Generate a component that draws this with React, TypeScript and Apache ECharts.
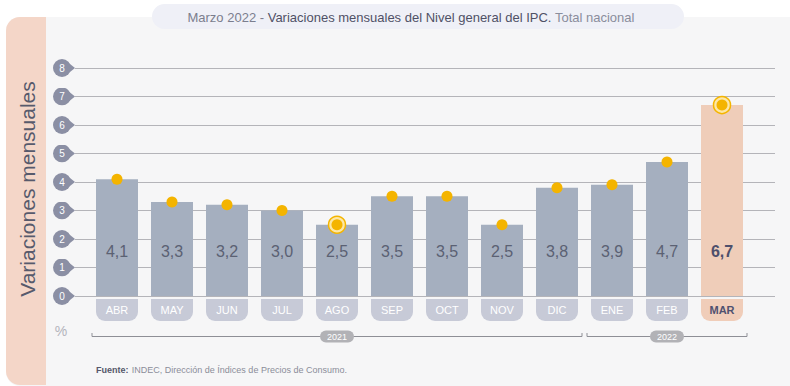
import React, { useEffect, useRef } from "react";
import * as echarts from "echarts";

const categories = ["ABR", "MAY", "JUN", "JUL", "AGO", "SEP", "OCT", "NOV", "DIC", "ENE", "FEB", "MAR"];
const values = [4.1, 3.3, 3.2, 3.0, 2.5, 3.5, 3.5, 2.5, 3.8, 3.9, 4.7, 6.7];
const ringMonths = ["AGO", "MAR"];
const highlightMonth = "MAR";
const yTicks = [0, 1, 2, 3, 4, 5, 6, 7, 8];
const yearLabels = ["2021", "2022"];
const yearStart = ["ABR", "ENE"];
const yearEnd = ["DIC", "MAR"];

const FONT = "Liberation Sans, Arial, sans-serif";

const badgeSvg =
  "data:image/svg+xml;charset=utf-8," +
  encodeURIComponent(
    '<svg xmlns="http://www.w3.org/2000/svg" width="22" height="18" viewBox="0 0 22 18">' +
      '<circle cx="9" cy="9" r="9" fill="#8b8fa4"/>' +
      '<polygon points="13.5,2.3 22,9 13.5,15.7" fill="#8b8fa4"/>' +
      "</svg>"
  );

const fmt = (v: number) => v.toFixed(1).replace(".", ",");

export default function App() {
  const ref = useRef<HTMLDivElement>(null);

  useEffect(() => {
    if (!ref.current) return;
    const chart = echarts.init(ref.current, undefined, { renderer: "svg" });

    const option: any = {
      animation: false,
      textStyle: { fontFamily: FONT },
      grid: [
        { left: 75, right: 15, top: 68, bottom: 90 },
        { left: 89.5, right: 40.5, top: 68, bottom: 90 },
      ],
      xAxis: [
        { type: "value", gridIndex: 0, show: false, min: 0, max: 1 },
        {
          type: "category",
          gridIndex: 1,
          data: categories,
          axisLine: { show: false },
          axisTick: { show: false },
          axisLabel: {
            margin: 2,
            interval: 0,
            formatter: (v: string) => (v === highlightMonth ? `{h|${v}}` : `{n|${v}}`),
            rich: {
              n: {
                width: 42,
                height: 22,
                lineHeight: 24,
                align: "center",
                color: "#ffffff",
                fontSize: 11,
                fontFamily: FONT,
                backgroundColor: "#c7cad7",
                borderRadius: [0, 0, 9, 9],
              },
              h: {
                width: 42,
                height: 22,
                lineHeight: 24,
                align: "center",
                color: "#4f5170",
                fontSize: 11,
                fontWeight: "bold",
                fontFamily: FONT,
                backgroundColor: "#f0cdb9",
                borderRadius: [0, 0, 9, 9],
              },
            },
          },
        },
      ],
      yAxis: [
        {
          type: "value",
          gridIndex: 0,
          min: yTicks[0],
          max: yTicks[yTicks.length - 1],
          interval: 1,
          axisLine: { show: false },
          axisTick: { show: false },
          splitLine: { show: true, lineStyle: { color: "#b4b4b9", width: 1.2 } },
          axisLabel: {
            margin: 0,
            formatter: (v: number) => `{b|${v}}`,
            rich: {
              b: {
                width: 18,
                height: 18,
                lineHeight: 18,
                padding: [0, 4, 0, 0],
                align: "center",
                color: "#ffffff",
                fontSize: 10,
                fontFamily: FONT,
                backgroundColor: { image: badgeSvg },
              },
            },
          },
        },
        {
          type: "value",
          gridIndex: 1,
          min: yTicks[0],
          max: yTicks[yTicks.length - 1],
          interval: 1,
          show: false,
          splitLine: { show: false },
        },
      ],
      series: [
        {
          type: "bar",
          xAxisIndex: 1,
          yAxisIndex: 1,
          barWidth: 42,
          data: values.map((v, i) => ({
            value: v,
            itemStyle: { color: categories[i] === highlightMonth ? "#efcdb9" : "#a5afbf" },
            label:
              categories[i] === highlightMonth
                ? { fontWeight: "bold", color: "#4d4f6c" }
                : undefined,
          })),
          label: {
            show: true,
            position: "insideBottom",
            distance: 37,
            fontSize: 16,
            fontFamily: FONT,
            color: "#5b6173",
            formatter: (p: any) => fmt(p.value),
          },
          z: 2,
        },
        {
          type: "scatter",
          xAxisIndex: 1,
          yAxisIndex: 1,
          symbolSize: 17,
          data: values.map((v, i) => (ringMonths.includes(categories[i]) ? v : "-")),
          itemStyle: { color: "#fde7a6", borderColor: "#f4b500", borderWidth: 1.5, opacity: 1 },
          z: 3,
        },
        {
          type: "scatter",
          xAxisIndex: 1,
          yAxisIndex: 1,
          symbolSize: 11,
          data: values,
          itemStyle: { color: "#f4b400", opacity: 1 },
          z: 4,
        },
      ],
    };

    const baseGraphic: any[] = [
      {
        type: "rect",
        z: -10,
        shape: { x: 6, y: 17, width: 800, height: 369, r: [14, 0, 0, 14] },
        style: { fill: "#f6f6f7" },
      },
      {
        type: "rect",
        z: -9,
        shape: { x: 6, y: 17, width: 40, height: 368, r: [14, 0, 0, 14] },
        style: { fill: "#f4d6c8" },
      },
      {
        type: "rect",
        z: -8,
        shape: { x: 152, y: 4, width: 532, height: 25, r: 12.5 },
        style: { fill: "#eff0f7" },
      },
      {
        type: "text",
        x: 411,
        y: 17,
        style: {
          text: "{a|Marzo 2022 - }{b|Variaciones mensuales del Nivel general del IPC.}{c| Total nacional}",
          align: "center",
          verticalAlign: "middle",
          font: `13px ${FONT}`,
          rich: {
            a: { fontSize: 13, fontFamily: FONT, fill: "#7b7e8e" },
            b: { fontSize: 13, fontFamily: FONT, fill: "#4f5166" },
            c: { fontSize: 13, fontFamily: FONT, fill: "#8a8d9c" },
          },
        },
      },
      {
        type: "text",
        x: 27,
        y: 189,
        rotation: Math.PI / 2,
        style: {
          text: "Variaciones mensuales",
          align: "center",
          verticalAlign: "middle",
          fontSize: 21,
          fontFamily: FONT,
          fill: "#575a6c",
        },
      },
      {
        type: "text",
        x: 61,
        y: 331,
        style: {
          text: "%",
          align: "center",
          verticalAlign: "middle",
          fontSize: 14,
          fontFamily: FONT,
          fill: "#b3b4bc",
        },
      },
      {
        type: "text",
        x: 96,
        y: 370,
        style: {
          text: "{a|Fuente:} {b|INDEC, Dirección de Índices de Precios de Consumo.}",
          align: "left",
          verticalAlign: "middle",
          rich: {
            a: { fontSize: 9, fontFamily: FONT, fontWeight: "bold", fill: "#55576a" },
            b: { fontSize: 9, fontFamily: FONT, fill: "#8b8d99" },
          },
        },
      },
    ];

    chart.setOption(option);

    const bracketY = 336.5;
    const half = 25;
    const bracketGraphic: any[] = [];
    yearLabels.forEach((lab, i) => {
      const x1 = (chart.convertToPixel({ xAxisIndex: 1 } as any, yearStart[i]) as number) - half;
      const x2 = (chart.convertToPixel({ xAxisIndex: 1 } as any, yearEnd[i]) as number) + half;
      bracketGraphic.push({
        type: "polyline",
        z: 1,
        shape: {
          points: [
            [x1, bracketY - 3.5],
            [x1, bracketY],
            [x2, bracketY],
            [x2, bracketY - 3.5],
          ],
        },
        style: { stroke: "#8e8f96", lineWidth: 1, fill: null },
      });
      const cx = (x1 + x2) / 2;
      bracketGraphic.push({
        type: "rect",
        z: 2,
        shape: { x: cx - 17, y: bracketY - 6, width: 34, height: 12, r: 6 },
        style: { fill: "#b2b2b6" },
      });
      bracketGraphic.push({
        type: "text",
        z: 3,
        x: cx,
        y: bracketY + 0.5,
        style: {
          text: lab,
          align: "center",
          verticalAlign: "middle",
          fontSize: 9,
          fontFamily: FONT,
          fill: "#ffffff",
        },
      });
    });

    chart.setOption({ graphic: [...baseGraphic, ...bracketGraphic] });

    return () => chart.dispose();
  }, []);

  return (
    <div
      ref={ref}
      style={{ position: "absolute", left: 0, top: 0, width: 790, height: 386, background: "#ffffff" }}
    />
  );
}
